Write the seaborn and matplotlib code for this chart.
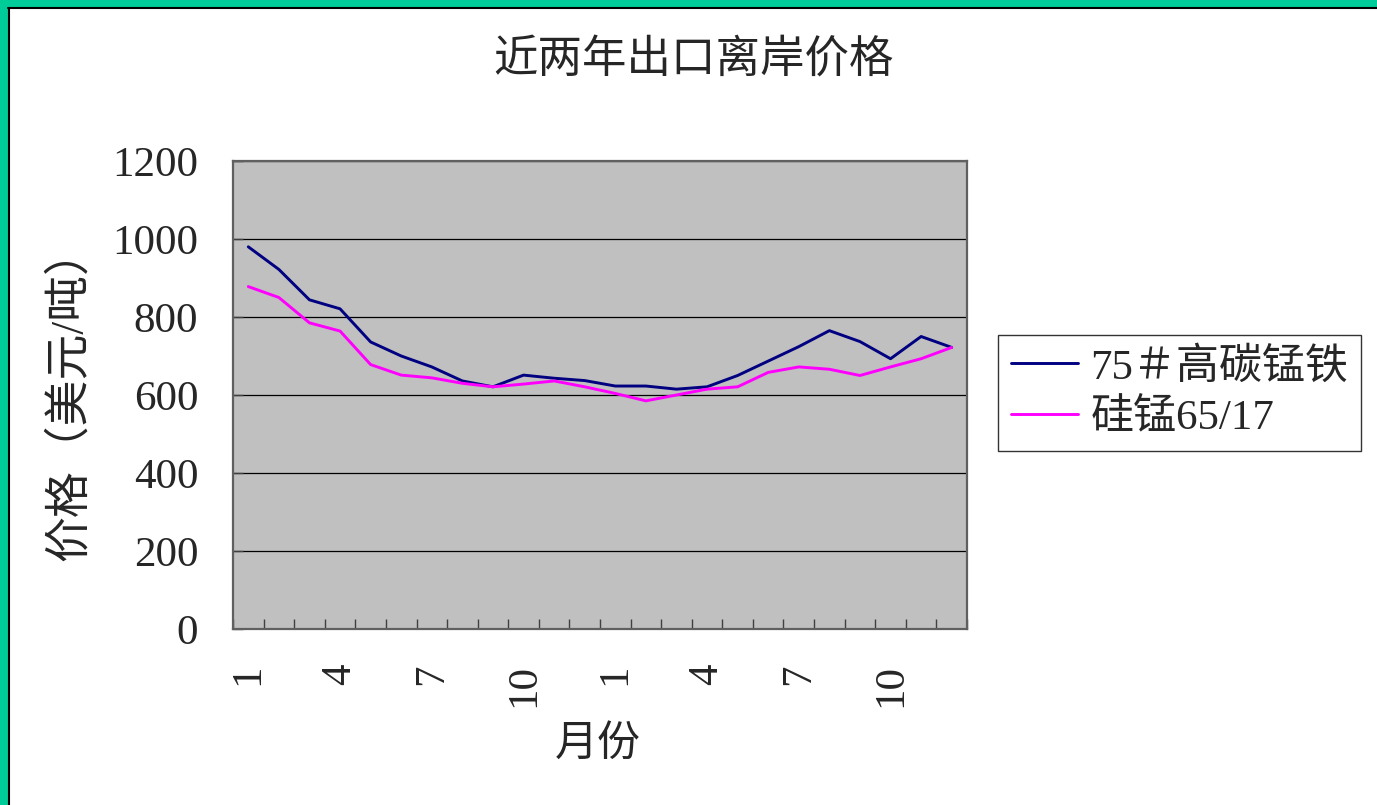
import pandas as pd
import matplotlib.pyplot as plt
import matplotlib.patches as mpatches
import seaborn as sns

# Monthly prices over two years (USD/ton)
months = [1, 2, 3, 4, 5, 6, 7, 8, 9, 10, 11, 12,
          1, 2, 3, 4, 5, 6, 7, 8, 9, 10, 11, 12]
fe_mn_hc = [980, 922, 844, 821, 736, 700, 672, 636, 621, 651, 643, 637,
            623, 623, 615, 621, 650, 687, 724, 765, 737, 693, 750, 722]
si_mn = [878, 850, 785, 764, 678, 651, 644, 630, 621, 628, 636, 621,
         604, 585, 600, 615, 621, 658, 672, 666, 650, 672, 693, 722]
series_names = ['75＃高碳锰铁', '硅锰65/17']
tick_labels = ['1', '4', '7', '10', '1', '4', '7', '10']

idx = list(range(len(months)))
df = pd.DataFrame({
    'idx': idx * 2,
    'price': fe_mn_hc + si_mn,
    'series': [series_names[0]] * len(idx) + [series_names[1]] * len(idx),
})

sns.set_style('white')
plt.rcParams['font.family'] = ['Liberation Serif', 'Noto Sans CJK SC']

fig = plt.figure(figsize=(13.77, 8.05), dpi=100)
ax = fig.add_axes([233 / 1377, 1 - 629 / 805, 734 / 1377, 468 / 805])
ax.set_facecolor('#c0c0c0')

sns.lineplot(data=df, x='idx', y='price', hue='series',
             palette=['#000080', '#ff00ff'], linewidth=2.1, ax=ax, legend=False)

ax.set_xlim(-0.5, len(months) - 0.5)
ax.set_ylim(0, 1200)
ax.set_yticks(range(0, 1201, 200))
ax.yaxis.grid(True, color='black', linewidth=0.9)
ax.set_axisbelow(True)

# labelled category centres, tick marks on category boundaries
ax.set_xticks(idx[::3])
ax.set_xticklabels(tick_labels, rotation=90, fontsize=31)
ax.set_xticks([i - 0.5 for i in range(len(months) + 1)], minor=True)
ax.tick_params(axis='x', which='major', bottom=True, length=0, pad=25)
ax.tick_params(axis='x', which='minor', bottom=True, direction='in', length=7,
               color='#404040', width=1)
ax.tick_params(axis='y', left=True, direction='in', length=7, color='#404040',
               width=1, labelsize=31, pad=25)

for s in ax.spines.values():
    s.set_color('#606060')
    s.set_linewidth(1.6)

ax.set_xlabel('')
ax.set_ylabel('')
fig.text(598 / 1377, 1 - 745 / 805, '月份', fontsize=31, ha='center', va='center')
fig.text(70 / 1377, 1 - 394 / 805, '价格（美元/吨）', fontsize=33, rotation=90,
         ha='center', va='center')
fig.text(694 / 1377, 1 - 60 / 805, '近两年出口离岸价格', fontsize=32, ha='center', va='center')

handles = [plt.Line2D([], [], color='#000080', lw=2.1),
           plt.Line2D([], [], color='#ff00ff', lw=2.1)]
leg = fig.legend(handles, series_names, loc='center left',
                 bbox_to_anchor=(998 / 1377, 1 - 393 / 805), fontsize=31,
                 frameon=True, fancybox=False, edgecolor='black',
                 handlelength=1.55, handletextpad=0.3, borderpad=0.3,
                 labelspacing=0.28, borderaxespad=0)
leg.get_frame().set_linewidth(1)

# green slide border along top and left edges
fig.patches.append(mpatches.Rectangle((0, 1 - 7 / 805), 1, 7 / 805,
                                      transform=fig.transFigure, color='#00cc99', zorder=0))
fig.patches.append(mpatches.Rectangle((0, 0), 8 / 1377, 1,
                                      transform=fig.transFigure, color='#00cc99', zorder=0))
fig.add_artist(plt.Line2D([8 / 1377, 1], [1 - 8 / 805, 1 - 8 / 805],
                          transform=fig.transFigure, color='black', lw=1.5))
fig.add_artist(plt.Line2D([9 / 1377, 9 / 1377], [0, 1 - 8 / 805],
                          transform=fig.transFigure, color='black', lw=1.5))

fig.savefig('out.png', dpi=100)
